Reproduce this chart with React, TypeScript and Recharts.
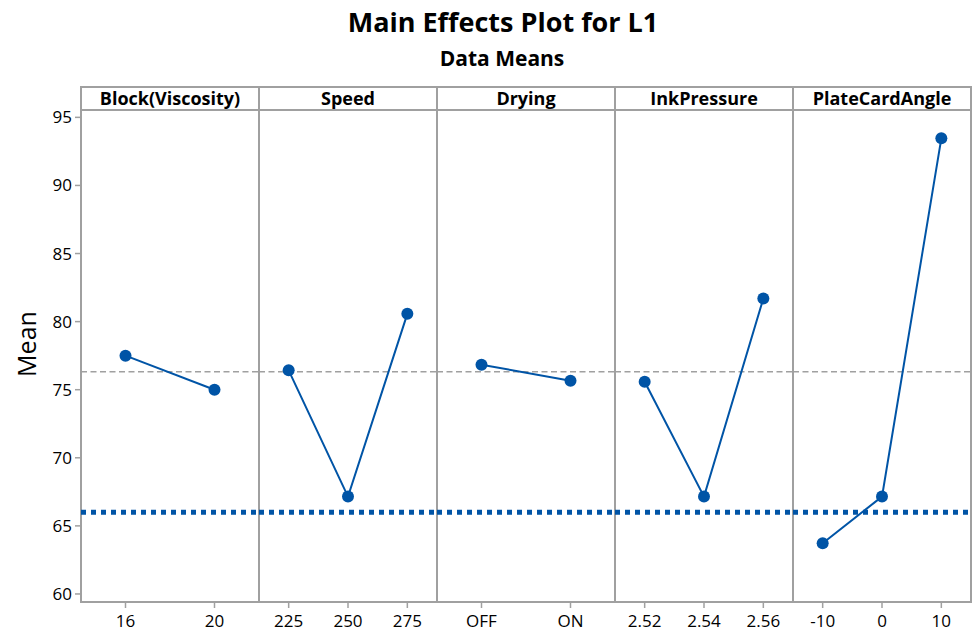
import { LineChart, Line, XAxis, YAxis, ReferenceLine } from 'recharts';

// factor levels and their means
const blockLevels = ['16', '20'];
const blockMeans = [77.5, 75.0];
const speedLevels = ['225', '250', '275'];
const speedMeans = [76.42, 67.15, 80.57];
const dryingLevels = ['OFF', 'ON'];
const dryingMeans = [76.84, 75.66];
const inkLevels = ['2.52', '2.54', '2.56'];
const inkMeans = [75.59, 67.15, 81.69];
const angleLevels = ['-10', '0', '10'];
const angleMeans = [63.73, 67.15, 93.46];

const yTicks = [60, 65, 70, 75, 80, 85, 90, 95];
const grandMean = 76.32;
const targetLine = 66;

const panels = [
  { name: 'Block(Viscosity)', levels: blockLevels, means: blockMeans },
  { name: 'Speed', levels: speedLevels, means: speedMeans },
  { name: 'Drying', levels: dryingLevels, means: dryingMeans },
  { name: 'InkPressure', levels: inkLevels, means: inkMeans },
  { name: 'PlateCardAngle', levels: angleLevels, means: angleMeans },
];

const FONT = '"Open Sans", "Noto Sans", sans-serif';
const BLUE = '#0054a6';
const GRID = '#a0a0a0';
const LEFT = 81;
const PANEL_W = 178;
const FRAME_TOP = 87;
const HEAD_BOTTOM = 110;
const PLOT_BOTTOM = 602;
const AXIS_W = 81;
const PAD_TOP = 12;

const App = () => {
  const lefts = panels.map((_, i) => LEFT + i * PANEL_W);
  const right = LEFT + panels.length * PANEL_W;

  return (
    <div
      style={{
        position: 'absolute',
        left: 0,
        top: 0,
        width: 973,
        height: 634,
        background: '#fff',
        fontFamily: FONT,
        overflow: 'hidden',
      }}
    >
      <div style={{ position: 'absolute', left: 0, width: 1006, top: 3, textAlign: 'center', fontSize: 27, fontWeight: 700, color: '#000' }}>
        Main Effects Plot for L1
      </div>
      <div style={{ position: 'absolute', left: 0, width: 1004, top: 44, textAlign: 'center', fontSize: 21, fontWeight: 700, color: '#000' }}>
        Data Means
      </div>
      <div
        style={{
          position: 'absolute',
          left: 26 - 60,
          top: 344 - 16,
          width: 120,
          height: 32,
          textAlign: 'center',
          fontSize: 25,
          lineHeight: '32px',
          fontWeight: 500,
          color: '#000',
          transform: 'rotate(-90deg)',
        }}
      >
        Mean
      </div>

      {/* frame */}
      <div style={{ position: 'absolute', left: LEFT - 1, top: FRAME_TOP - 1, width: right - LEFT + 2, height: 2, background: GRID }} />
      <div style={{ position: 'absolute', left: LEFT - 1, top: HEAD_BOTTOM - 1, width: right - LEFT + 2, height: 2, background: GRID }} />
      <div style={{ position: 'absolute', left: LEFT - 1, top: PLOT_BOTTOM - 1, width: right - LEFT + 2, height: 2, background: GRID }} />
      {[...lefts, right].map((x, i) => (
        <div key={`v-${i}`} style={{ position: 'absolute', left: x - 1, top: FRAME_TOP - 1, width: 2, height: PLOT_BOTTOM - FRAME_TOP + 2, background: GRID }} />
      ))}
      {panels.map((p, i) => (
        <div
          key={`h-${i}`}
          style={{
            position: 'absolute',
            left: lefts[i],
            top: FRAME_TOP,
            width: PANEL_W,
            height: HEAD_BOTTOM - FRAME_TOP,
            lineHeight: `${HEAD_BOTTOM - FRAME_TOP}px`,
            textAlign: 'center',
            fontSize: 18,
            fontWeight: 700,
            color: '#000',
          }}
        >
          {p.name}
        </div>
      ))}

      {panels.map((p, i) => {
        const data = p.levels.map((level, j) => ({ level, mean: p.means[j] }));
        const first = i === 0;
        return (
          <div key={p.name} style={{ position: 'absolute', left: first ? 0 : lefts[i], top: HEAD_BOTTOM - PAD_TOP }}>
            <LineChart
              width={first ? PANEL_W + AXIS_W : PANEL_W}
              height={PLOT_BOTTOM - HEAD_BOTTOM + PAD_TOP + 32}
              data={data}
              margin={{ top: PAD_TOP, right: 0, bottom: 0, left: 0 }}
            >
              <XAxis
                dataKey="level"
                scale="band"
                interval={0}
                height={32}
                axisLine={false}
                tickLine={{ stroke: GRID, strokeWidth: 1.5 }}
                tickSize={6}
                tickMargin={7}
                tick={{ fill: '#000', fontSize: 17, fontWeight: 500, fontFamily: FONT }}
              />
              <YAxis
                hide={!first}
                width={AXIS_W}
                type="number"
                domain={[59.41, 95.54]}
                allowDataOverflow
                ticks={yTicks}
                axisLine={false}
                tickLine={{ stroke: GRID, strokeWidth: 1.5 }}
                tickSize={6}
                tickMargin={3}
                tick={{ fill: '#000', fontSize: 17, fontWeight: 500, fontFamily: FONT }}
              />
              <ReferenceLine y={grandMean} stroke={GRID} strokeWidth={1.5} strokeDasharray="6 3.5" />
              <ReferenceLine y={targetLine} stroke={BLUE} strokeWidth={5} strokeDasharray="5 5" />
              <Line
                dataKey="mean"
                stroke={BLUE}
                strokeWidth={2}
                dot={{ r: 6, fill: BLUE, stroke: BLUE, strokeWidth: 0 }}
                activeDot={false}
                isAnimationActive={false}
              />
            </LineChart>
          </div>
        );
      })}
    </div>
  );
};

export default App;
